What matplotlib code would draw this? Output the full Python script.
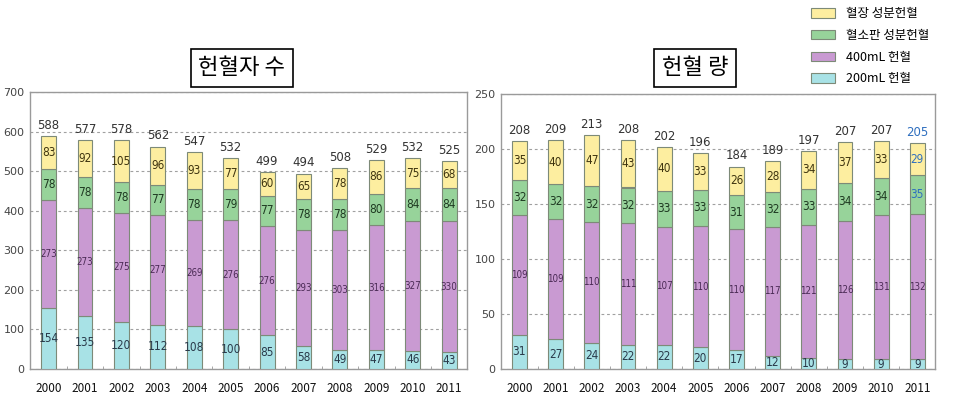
import matplotlib
matplotlib.use("Agg")
import matplotlib.pyplot as plt
from matplotlib.patches import Patch
import numpy as np

plt.rcParams['font.family'] = ['Noto Sans CJK KR', 'DejaVu Sans']

years = ['2000', '2001', '2002', '2003', '2004', '2005', '2006', '2007', '2008', '2009', '2010', '2011']

# 헌혈자 수 (donors)
d_200 = [154, 135, 120, 112, 108, 100, 85, 58, 49, 47, 46, 43]
d_400 = [273, 273, 275, 277, 269, 276, 276, 293, 303, 316, 327, 330]
d_plt = [78, 78, 78, 77, 78, 79, 77, 78, 78, 80, 84, 84]
d_pls = [83, 92, 105, 96, 93, 77, 60, 65, 78, 86, 75, 68]
d_tot = [588, 577, 578, 562, 547, 532, 499, 494, 508, 529, 532, 525]

# 헌혈 량 (volume)
v_200 = [31, 27, 24, 22, 22, 20, 17, 12, 10, 9, 9, 9]
v_400 = [109, 109, 110, 111, 107, 110, 110, 117, 121, 126, 131, 132]
v_plt = [32, 32, 32, 32, 33, 33, 31, 32, 33, 34, 34, 35]
v_pls = [35, 40, 47, 43, 40, 33, 26, 28, 34, 37, 33, 29]
v_tot = [208, 209, 213, 208, 202, 196, 184, 189, 197, 207, 207, 205]

series_names = ['200mL 헌혈', '400mL 헌혈', '혈소판 성분헌혈', '혈장 성분헌혈']
colors = ['#a8e2e6', '#c99ad2', '#97d39a', '#fdeea0']
label_colors = ['#2a3a4a', '#4a2a55', '#1f3a22', '#3f3510']
edge = '#7d8a78'

fig = plt.figure(figsize=(9.79, 4.05), dpi=100)

def draw(ax, segs, totals, ymax, step, blue_last=False):
    x = np.arange(len(years))
    bottom = np.zeros(len(years))
    ax.set_axisbelow(True)
    for k, vals in enumerate(segs):
        vals = np.array(vals, dtype=float)
        ax.bar(x, vals, 0.41, bottom=bottom, color=colors[k], edgecolor=edge, linewidth=0.8, zorder=3)
        for i in range(len(years)):
            c = label_colors[k]
            if blue_last and i == len(years) - 1 and k >= 2:
                c = '#2f6fbf'
            fs = 7 if k == 1 else 8.5
            ax.text(x[i], bottom[i] + vals[i] / 2, str(int(vals[i])), ha='center', va='center',
                    fontsize=fs, color=c, zorder=4, family=['DejaVu Sans'],
                    fontstretch='condensed')
        bottom += vals
    for i in range(len(years)):
        c = '#2f6fbf' if (blue_last and i == len(years) - 1) else '#333333'
        ax.text(x[i], bottom[i] + ymax * 0.015, str(totals[i]), ha='center', va='bottom',
                fontsize=8.5, color=c, family=['DejaVu Sans'])
    ax.set_xlim(-0.51, len(years) - 0.51)
    ax.set_ylim(0, ymax)
    ax.set_yticks(np.arange(0, ymax + 1, step))
    ax.yaxis.grid(True, linestyle=(0, (2.5, 2.5)), color='#a0a0a0', linewidth=0.8)
    ax.set_xticks(x)
    ax.set_xticklabels(years, fontsize=8.5, color='#111111')
    ax.tick_params(axis='x', length=0, pad=9)
    ax.tick_params(axis='y', length=0, pad=4, labelsize=8, labelcolor='#444444')
    for lab in ax.get_yticklabels():
        lab.set_family(['DejaVu Sans'])
    ax.set_xticks(x[:-1] + 0.5, minor=True)
    ax.tick_params(axis='x', which='minor', direction='in', length=2.5, color='#999999')
    for s in ax.spines.values():
        s.set_color('#9a9a9a')
        s.set_linewidth(1.0)

ax1 = fig.add_axes([30 / 979, 36 / 405, 437 / 979, 277 / 405])
draw(ax1, [d_200, d_400, d_plt, d_pls], d_tot, 700, 100)

ax2 = fig.add_axes([501 / 979, 36 / 405, 434 / 979, 275 / 405])
draw(ax2, [v_200, v_400, v_plt, v_pls], v_tot, 250, 50, blue_last=True)

box = dict(boxstyle='square,pad=0.35', facecolor='white', edgecolor='black', linewidth=1.2)
fig.text(242 / 979, 1 - 68 / 405, '헌혈자 수', ha='center', va='center', fontsize=16, bbox=box)
fig.text(695 / 979, 1 - 68 / 405, '헌혈 량', ha='center', va='center', fontsize=16, bbox=box)

handles = [Patch(facecolor=colors[k], edgecolor=edge, linewidth=0.8) for k in [3, 2, 1, 0]]
labels = [series_names[k] for k in [3, 2, 1, 0]]
fig.legend(handles, labels, loc='upper left', bbox_to_anchor=(800 / 979, 1.01), frameon=False,
           fontsize=9, handlelength=1.9, handleheight=0.8, labelspacing=0.7, handletextpad=0.9)

fig.savefig('out.png', dpi=100)
